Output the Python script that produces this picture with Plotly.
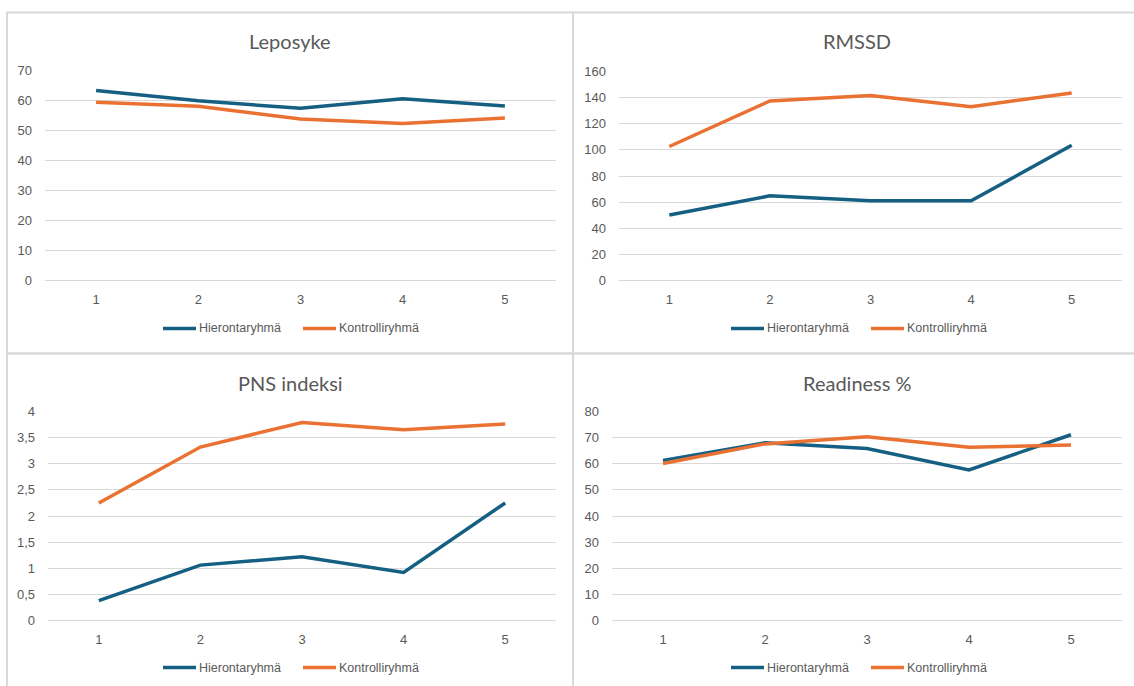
import plotly.graph_objects as go

W, H = 1134, 686

categories = [1, 2, 3, 4, 5]
series_names = ["Hierontaryhmä", "Kontrolliryhmä"]
series_colors = ["#156082", "#E97132"]

titles = ["Leposyke", "RMSSD", "PNS indeksi", "Readiness %"]

leposyke_hieronta = [63.3, 59.9, 57.4, 60.6, 58.2]
leposyke_kontrolli = [59.4, 58.1, 53.8, 52.3, 54.2]

rmssd_hieronta = [50.2, 64.8, 61.0, 61.0, 103.6]
rmssd_kontrolli = [102.6, 137.4, 141.6, 133.0, 143.6]

pns_hieronta = [0.38, 1.06, 1.22, 0.92, 2.25]
pns_kontrolli = [2.25, 3.32, 3.79, 3.65, 3.76]

readiness_hieronta = [61.3, 68.0, 65.8, 57.6, 71.1]
readiness_kontrolli = [60.1, 67.6, 70.3, 66.3, 67.2]

y_ranges = [(0, 70, 10), (0, 160, 20), (0, 4, 0.5), (0, 80, 10)]
pns_tick_labels = ["0", "0,5", "1", "1,5", "2", "2,5", "3", "3,5", "4"]

panel_series = [
    (leposyke_hieronta, leposyke_kontrolli),
    (rmssd_hieronta, rmssd_kontrolli),
    (pns_hieronta, pns_kontrolli),
    (readiness_hieronta, readiness_kontrolli),
]

# plot-area rectangles in pixels: (left, right, top, bottom)
plot_boxes = [
    (45, 556, 70, 280),
    (619, 1122, 71, 280),
    (48, 556, 411, 620),
    (612, 1122, 411, 620),
]
# panel frames in pixels: (left, right, top, bottom)
frames = [
    (7, 573, 12, 353),
    (573, 1140, 12, 353),
    (7, 573, 353, 700),
    (573, 1140, 353, 700),
]
title_centers = [290, 857, 290, 857]
legend_starts = [(163, 303), (731, 871), (163, 303), (731, 871)]

TEXT = "#595959"
GRID = "#D9D9D9"
FONT = "Liberation Sans Narrow, Arial Narrow, sans-serif"
TITLE_FONT = "Lato, Open Sans, sans-serif"
LINE_W = 3.5

# vertical pixel -> paper mapping (drawable band of the page)
Y_TOP, Y_SPAN = 6.5, 671.0

fig = go.Figure()
layout = {}
shapes = []
annotations = []


def px_x(v):
    return v / W


def px_y(v):
    return 1 - (v - Y_TOP) / Y_SPAN


for i in range(4):
    n = i + 1
    xa = "xaxis" if n == 1 else f"xaxis{n}"
    ya = "yaxis" if n == 1 else f"yaxis{n}"
    xr = "x" if n == 1 else f"x{n}"
    yr = "y" if n == 1 else f"y{n}"
    l, r, t, b = plot_boxes[i]
    y0, y1, dy = y_ranges[i]

    for s, vals in enumerate(panel_series[i]):
        fig.add_trace(go.Scatter(
            x=categories, y=vals, mode="lines",
            line=dict(color=series_colors[s], width=LINE_W),
            name=series_names[s], showlegend=False,
            xaxis=xr, yaxis=yr,
        ))

    layout[xa] = dict(
        domain=[px_x(l), px_x(r)], anchor=yr, range=[0.5, 5.5],
        tickvals=categories, ticks="", showgrid=False, zeroline=False,
        showline=False, tickfont=dict(family=FONT, size=13, color=TEXT),
        ticklabelstandoff=9, fixedrange=True,
    )
    yaxis = dict(
        domain=[px_y(b), px_y(t)], anchor=xr, range=[y0, y1], dtick=dy,
        showgrid=True, gridcolor=GRID, gridwidth=1, zeroline=True,
        zerolinecolor=GRID, zerolinewidth=1, showline=False, ticks="",
        tickfont=dict(family=FONT, size=13, color=TEXT), ticklabelstandoff=12,
        fixedrange=True,
    )
    if i == 2:
        yaxis["tickvals"] = [k * dy for k in range(len(pns_tick_labels))]
        yaxis["ticktext"] = pns_tick_labels
    layout[ya] = yaxis

    fl, fr, ft, fb = frames[i]
    shapes.append(dict(
        type="rect", xref="paper", yref="paper",
        x0=px_x(fl), x1=px_x(fr), y0=px_y(fb), y1=px_y(ft),
        line=dict(color=GRID, width=2), fillcolor="rgba(0,0,0,0)", layer="below",
    ))

    annotations.append(dict(
        text=titles[i], xref="paper", yref="paper",
        x=px_x(title_centers[i]), y=px_y(ft + 29), xanchor="center", yanchor="middle",
        showarrow=False, font=dict(family=TITLE_FONT, size=20, color=TEXT),
    ))

    # legend row under each panel
    ly = ft + 316 if i < 2 else ft + 314
    for s in range(2):
        lx = legend_starts[i][s]
        shapes.append(dict(
            type="line", xref="paper", yref="paper",
            x0=px_x(lx), x1=px_x(lx + 33), y0=px_y(ly), y1=px_y(ly),
            line=dict(color=series_colors[s], width=LINE_W),
        ))
        annotations.append(dict(
            text=series_names[s], xref="paper", yref="paper",
            x=px_x(lx + 34), y=px_y(ly), xanchor="left", yanchor="middle",
            showarrow=False, font=dict(family=FONT, size=12.5, color=TEXT),
        ))

fig.update_layout(
    width=W, height=H, margin=dict(l=0, r=0, t=0, b=0),
    paper_bgcolor="white", plot_bgcolor="white",
    showlegend=False, shapes=shapes, annotations=annotations,
    **layout,
)

fig.write_html("out.html", config={"displayModeBar": False})
